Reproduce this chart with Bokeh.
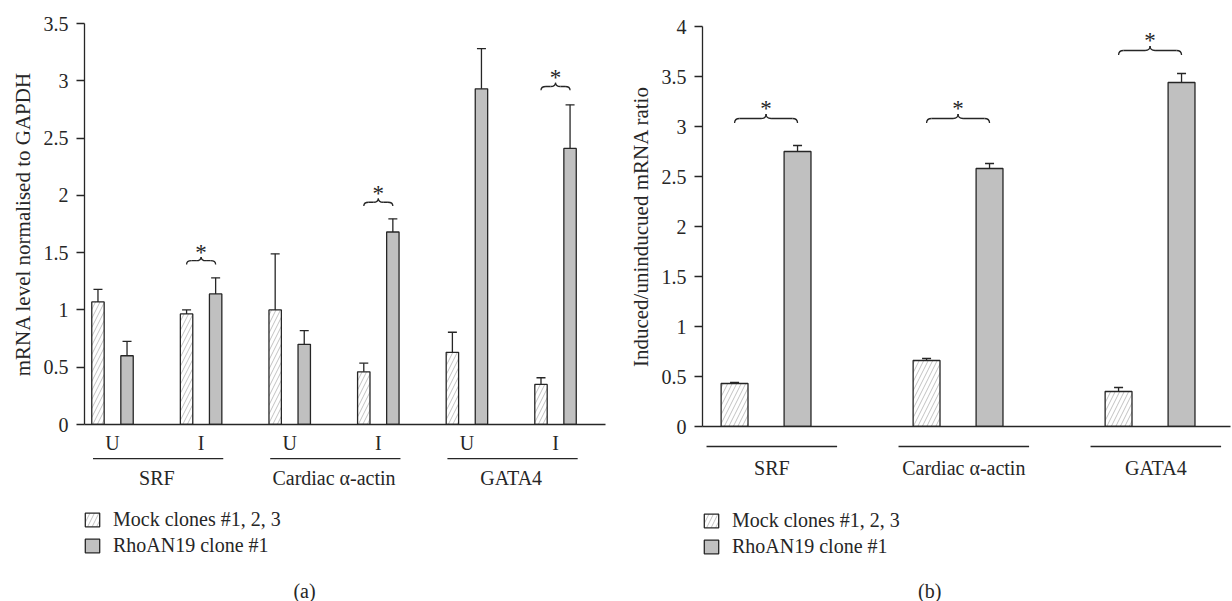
from bokeh.plotting import figure
from bokeh.models import (ColumnDataSource, Range1d, FixedTicker, Whisker, TeeHead,
                          Legend, LegendItem)
from bokeh.layouts import row, column
from bokeh.embed import file_html
from bokeh.resources import INLINE

# ---------------- data ----------------
genes = ["SRF", "Cardiac α-actin", "GATA4"]
conditions = ["U", "I", "U", "I", "U", "I"]
legend_labels = ["Mock clones #1, 2, 3", "RhoAN19 clone #1"]

# panel (a): mRNA level normalised to GAPDH (U/I per gene)
mock_a = [1.07, 0.965, 1.00, 0.46, 0.63, 0.35]
mock_a_err = [0.11, 0.035, 0.49, 0.075, 0.175, 0.058]
rho_a = [0.60, 1.14, 0.70, 1.68, 2.93, 2.41]
rho_a_err = [0.125, 0.14, 0.12, 0.115, 0.35, 0.38]

# panel (b): induced/uninduced ratio
mock_b = [0.43, 0.66, 0.35]
mock_b_err = [0.01, 0.02, 0.04]
rho_b = [2.75, 2.58, 3.44]
rho_b_err = [0.06, 0.05, 0.09]

# significance brace levels
a_sig_pairs = [1, 3, 5]
a_sig_levels = [1.43, 1.94, 2.95]
b_sig_levels = [3.08, 3.08, 3.76]

a_ticks = [0, 0.5, 1, 1.5, 2, 2.5, 3, 3.5]
b_ticks = [0, 0.5, 1, 1.5, 2, 2.5, 3, 3.5, 4]

# ---------------- style ----------------
FONT = "Liberation Serif"
FS = "20px"
INK = "#262626"
SOLID = "#c0c0c0"
OFF = 0.164
BW = 0.14
MOCK_STYLE = dict(fill_color="white", line_color=INK, line_width=1.3, hatch_pattern="/",
                  hatch_color="#c2c2c2", hatch_scale=9, hatch_weight=1)
RHO_STYLE = dict(fill_color=SOLID, line_color=INK, line_width=1.3)
NAN = float("nan")


def style_axes(p, ticks, label, bound, xticks=None, xlabels=None):
    ax = p.yaxis[0]
    ax.bounds = (0, bound)
    ax.ticker = FixedTicker(ticks=ticks)
    ax.major_label_overrides = {t: ("%g" % t) for t in ticks}
    ax.axis_line_color = INK
    ax.axis_line_width = 1.3
    ax.major_tick_line_color = INK
    ax.major_tick_line_width = 1.3
    ax.major_tick_out = 8
    ax.major_tick_in = 0
    ax.minor_tick_line_color = None
    ax.major_label_standoff = 8
    ax.major_label_text_font = FONT
    ax.major_label_text_font_size = FS
    ax.major_label_text_color = INK
    ax.axis_label = label
    ax.axis_label_text_font = FONT
    ax.axis_label_text_font_size = "21px"
    ax.axis_label_text_font_style = "normal"
    ax.axis_label_text_color = INK
    ax.axis_label_standoff = 6

    xa = p.xaxis[0]
    xa.axis_line_color = INK
    xa.axis_line_width = 1.3
    xa.major_tick_line_color = None
    xa.minor_tick_line_color = None
    xa.major_tick_out = 0
    xa.major_tick_in = 0
    xa.ticker = FixedTicker(ticks=xticks or [])
    if xticks:
        xa.major_label_overrides = dict(zip(xticks, xlabels))
    xa.major_label_standoff = 7
    xa.major_label_text_font = FONT
    xa.major_label_text_font_size = FS
    xa.major_label_text_color = INK


def make_fig(width, height, xr, yr, left, right, top, bottom, axes=True):
    loc = "below" if axes else None
    p = figure(width=width, height=height, x_range=xr, y_range=Range1d(*yr),
               x_axis_location=loc, y_axis_location="left" if axes else None,
               output_backend="svg", toolbar_location=None,
               min_border_left=left, min_border_right=right, min_border_top=top,
               min_border_bottom=bottom)
    p.outline_line_color = None
    p.grid.visible = False
    p.background_fill_color = "white"
    p.border_fill_color = "white"
    return p


def bars(p, xs, mock, mock_err, rho, rho_err):
    xm = [x - OFF for x in xs]
    xr = [x + OFF for x in xs]
    src_m = ColumnDataSource(dict(x=xm, top=mock, lo=[v - e for v, e in zip(mock, mock_err)],
                                  hi=[v + e for v, e in zip(mock, mock_err)]))
    src_r = ColumnDataSource(dict(x=xr, top=rho, lo=[v - e for v, e in zip(rho, rho_err)],
                                  hi=[v + e for v, e in zip(rho, rho_err)]))
    p.vbar(x="x", top="top", bottom=0, width=BW, source=src_m, **MOCK_STYLE)
    p.vbar(x="x", top="top", bottom=0, width=BW, source=src_r, **RHO_STYLE)
    for s in (src_m, src_r):
        w = Whisker(base="x", upper="hi", lower="lo", source=s, dimension="height",
                    line_color=INK, line_width=1.3,
                    upper_head=TeeHead(size=9, line_color=INK, line_width=1.3),
                    lower_head=TeeHead(size=9, line_color=INK, line_width=1.3))
        p.add_layout(w)


def braces(p, centers, levels, r, d, star_off):
    xa = [c - OFF for c in centers]
    xb = [c + OFF for c in centers]
    xm = list(centers)
    q = dict(x0=[], y0=[], x1=[], y1=[], cx=[], cy=[])
    sg = dict(x0=[], y0=[], x1=[], y1=[])

    def addq(x0, y0, x1, y1, cx, cy):
        for k, v in zip(("x0", "y0", "x1", "y1", "cx", "cy"), (x0, y0, x1, y1, cx, cy)):
            q[k].append(v)

    def adds(x0, x1, y):
        sg["x0"].append(x0); sg["x1"].append(x1); sg["y0"].append(y); sg["y1"].append(y)

    for a, b, m, y in zip(xa, xb, xm, levels):
        addq(a, y - d, a + r, y, a, y)
        adds(a + r, m - r, y)
        addq(m - r, y, m, y + d, m, y)
        addq(m, y + d, m + r, y, m, y)
        adds(m + r, b - r, y)
        addq(b - r, y, b, y - d, b, y)
    p.quadratic(x0="x0", y0="y0", x1="x1", y1="y1", cx="cx", cy="cy",
                source=ColumnDataSource(q), line_color=INK, line_width=1.3)
    p.segment(x0="x0", y0="y0", x1="x1", y1="y1", source=ColumnDataSource(sg),
              line_color=INK, line_width=1.3)
    p.text(x=xm, y=[y + star_off for y in levels], text=["*"] * len(xm),
           text_align="center", text_baseline="alphabetic", text_font=FONT,
           text_font_size="23px", text_color=INK)


def legend(p, loc):
    # key swatches (same styles as the bars; placeholder rows draw nothing in the plot)
    r_m = p.vbar(x=[NAN], top=[NAN], width=BW, **MOCK_STYLE)
    r_r = p.vbar(x=[NAN], top=[NAN], width=BW, **RHO_STYLE)
    lg = Legend(items=[LegendItem(label=legend_labels[0], renderers=[r_m]),
                       LegendItem(label=legend_labels[1], renderers=[r_r])],
                location=loc, orientation="vertical", glyph_width=18, glyph_height=17,
                label_standoff=12, spacing=3, padding=0, margin=0,
                border_line_color=None, background_fill_alpha=0,
                label_text_font=FONT, label_text_font_size=FS, label_text_color=INK)
    p.add_layout(lg)


def txt(p, x, y, t):
    p.text(x=x, y=y, text=t, text_align="center", text_baseline="middle",
           text_font=FONT, text_font_size=FS, text_color=INK)


# ---------------- panel (a) ----------------
pairs = list(range(len(conditions)))
xa_range = Range1d(-0.316, 5.564)
pa = make_fig(610, 456, xa_range, (0, 3.5), 84, 5, 23, 32)
style_axes(pa, a_ticks, "mRNA level normalised to GAPDH", 3.5, pairs, conditions)
bars(pa, pairs, mock_a, mock_a_err, rho_a, rho_a_err)
braces(pa, a_sig_pairs, a_sig_levels, 0.056, 0.033, 0.075)

qa = make_fig(610, 145, xa_range, (-1.545, -0.2793), 84, 5, 0, 0, axes=False)
u_idx = pairs[0::2]
qa.segment(x0=[u - 0.22 for u in u_idx], x1=[u + 1.25 for u in u_idx],
           y0=[-0.297] * 3, y1=[-0.297] * 3, line_color=INK, line_width=1.3)
txt(qa, [u + 0.5 for u in u_idx], [-0.463] * 3, genes)
legend(qa, (-1, 44))
txt(qa, [2.167], [-1.449], ["(a)"])

# ---------------- panel (b) ----------------
gidx = list(range(len(genes)))
xb_range = Range1d(-0.331, 2.419)
pb = make_fig(622, 442, xb_range, (0, 4.0), 92, 2, 26, 16)
style_axes(pb, b_ticks, "Induced/uninducued mRNA ratio", 4)
bars(pb, gidx, mock_b, mock_b_err, rho_b, rho_b_err)
braces(pb, gidx, b_sig_levels, 0.026, 0.045, 0.10)

qb = make_fig(622, 159, xb_range, (-1.75, -0.16), 92, 2, 0, 0, axes=False)
qb.segment(x0=[g - 0.31 for g in gidx], x1=[g + 0.37 for g in gidx],
           y0=[-0.20] * 3, y1=[-0.20] * 3, line_color=INK, line_width=1.3)
txt(qb, [g + 0.03 for g in gidx], [-0.41] * 3, genes)
legend(qb, (0, 43))
txt(qb, [0.852], [-1.64], ["(b)"])

layout = row(column(pa, qa), column(pb, qb))
open("out.html", "w").write(file_html(layout, INLINE))
